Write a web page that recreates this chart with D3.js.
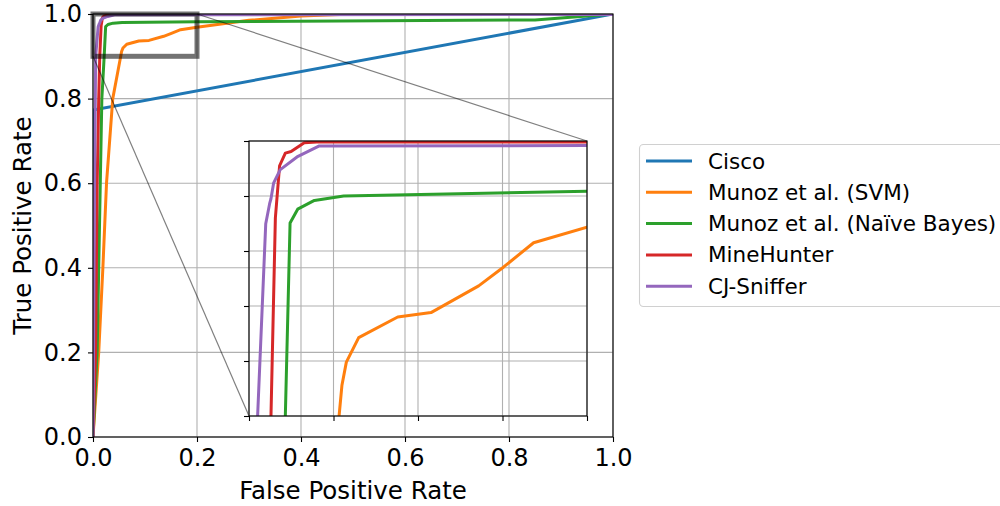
<!DOCTYPE html>
<html>
<head>
<meta charset="utf-8">
<script src="https://cdn.jsdelivr.net/npm/d3@7"></script>
<style>
  body { margin: 0; background: #fff; }
  text { font-family: "DejaVu Sans", sans-serif; fill: #000; }
</style>
</head>
<body>
<div id="chart"></div>
<script>
// ROC data
var names = ["Cisco", "Munoz et al. (SVM)", "Munoz et al. (Naïve Bayes)", "MineHunter", "CJ-Sniffer"];
var colors = ["#1f77b4", "#ff7f0e", "#2ca02c", "#d62728", "#9467bd"];

var ciscoFpr = [0, 0, 1];
var ciscoTpr = [0, 0.773, 1];

var svmFpr = [0, 0.011, 0.019, 0.026, 0.038, 0.0533, 0.055, 0.0576, 0.0649, 0.088, 0.1077, 0.1359, 0.1507, 0.1684, 0.2, 0.3, 0.4, 0.5, 1.0];
var svmTpr = [0, 0.2, 0.4, 0.6, 0.8, 0.9, 0.9112, 0.9196, 0.9285, 0.936, 0.9376, 0.9473, 0.9542, 0.963, 0.9687, 0.985, 0.995, 1.0, 1.0];

var nbFpr = [0, 0.008, 0.011, 0.014, 0.017, 0.0215, 0.0243, 0.0288, 0.0387, 0.056, 0.2, 0.85, 1];
var nbTpr = [0, 0.2, 0.4, 0.6, 0.8, 0.9, 0.9702, 0.9752, 0.9784, 0.98, 0.9817, 0.986, 1];

var mhFpr = [0, 0.005, 0.008, 0.011, 0.013, 0.0156, 0.0181, 0.0215, 0.0249, 0.0327, 0.0402, 1];
var mhTpr = [0, 0.2, 0.6, 0.8, 0.9, 0.972, 0.991, 0.9956, 0.9962, 0.9994, 0.9996, 1];

var cjFpr = [0, 0.003, 0.0051, 0.0099, 0.0122, 0.013, 0.0146, 0.0185, 0.0284, 0.0416, 1];
var cjTpr = [0, 0.6, 0.9, 0.9699, 0.9772, 0.979, 0.9848, 0.9896, 0.9942, 0.9982, 0.999];

var mainTicks = [0, 0.2, 0.4, 0.6, 0.8, 1.0];
var insetXTicks = [0, 0.05, 0.1, 0.15, 0.2];
var insetYTicks = [0.9, 0.92, 0.94, 0.96, 0.98, 1.0];
var zoomX = [0, 0.2], zoomY = [0.9, 1.0];

var series = [
  d3.zip(ciscoFpr, ciscoTpr),
  d3.zip(svmFpr, svmTpr),
  d3.zip(nbFpr, nbTpr),
  d3.zip(mhFpr, mhTpr),
  d3.zip(cjFpr, cjTpr)
];

var width = 1000, height = 506;
var tickFont = 24, labelFont = 24.5, legendFont = 21.5;

var svg = d3.select("#chart").append("svg")
  .attr("width", width).attr("height", height);

svg.append("rect").attr("width", width).attr("height", height).attr("fill", "#fff");

var x = d3.scaleLinear().domain([0, 1]).range([93, 613]);
var y = d3.scaleLinear().domain([0, 1]).range([437, 14]);

var xi = d3.scaleLinear().domain(zoomX).range([249, 587]);
var yi = d3.scaleLinear().domain(zoomY).range([416, 141]);

var defs = svg.append("defs");
defs.append("clipPath").attr("id", "clipMain").append("rect")
  .attr("x", x(0)).attr("y", y(1)).attr("width", x(1) - x(0)).attr("height", y(0) - y(1));
defs.append("clipPath").attr("id", "clipInset").append("rect")
  .attr("x", xi(zoomX[0])).attr("y", yi(zoomY[1])).attr("width", xi(zoomX[1]) - xi(zoomX[0])).attr("height", yi(zoomY[0]) - yi(zoomY[1]));

function drawAxes(g, xs, ys, xt, yt, labels, clipId) {
  // grid
  g.append("g").selectAll("line.gx").data(xt).enter().append("line")
    .attr("x1", d => xs(d)).attr("x2", d => xs(d))
    .attr("y1", ys.range()[0]).attr("y2", ys.range()[1])
    .attr("stroke", "#b0b0b0").attr("stroke-width", 1.1);
  g.append("g").selectAll("line.gy").data(yt).enter().append("line")
    .attr("y1", d => ys(d)).attr("y2", d => ys(d))
    .attr("x1", xs.range()[0]).attr("x2", xs.range()[1])
    .attr("stroke", "#b0b0b0").attr("stroke-width", 1.1);

  var line = d3.line().x(d => xs(d[0])).y(d => ys(d[1]));
  g.append("g").attr("clip-path", "url(#" + clipId + ")")
    .selectAll("path").data(series).enter().append("path")
    .attr("d", line)
    .attr("fill", "none")
    .attr("stroke", (d, i) => colors[i])
    .attr("stroke-width", 3)
    .attr("stroke-linejoin", "round")
    .attr("stroke-linecap", "butt");

  var fmt = labels ? d3.format(".1f") : () => "";
  var xa = g.append("g").attr("transform", "translate(0," + ys.range()[0] + ")")
    .call(d3.axisBottom(xs).tickValues(xt).tickSize(5).tickPadding(7).tickFormat(fmt));
  var ya = g.append("g").attr("transform", "translate(" + xs.range()[0] + ",0)")
    .call(d3.axisLeft(ys).tickValues(yt).tickSize(5).tickPadding(6).tickFormat(fmt));
  [xa, ya].forEach(a => {
    a.select(".domain").remove();
    a.selectAll("line").attr("stroke", "#000").attr("stroke-width", 1.1);
    a.selectAll("text").attr("font-size", tickFont).attr("font-family", "DejaVu Sans");
  });

  g.append("rect")
    .attr("x", xs.range()[0]).attr("y", ys.range()[1])
    .attr("width", xs.range()[1] - xs.range()[0])
    .attr("height", ys.range()[0] - ys.range()[1])
    .attr("fill", "none").attr("stroke", "#000").attr("stroke-width", 1.1);
}

var mainG = svg.append("g");
drawAxes(mainG, x, y, mainTicks, mainTicks, true, "clipMain");

// zoom region marker
svg.append("rect")
  .attr("x", x(zoomX[0])).attr("y", y(zoomY[1]))
  .attr("width", x(zoomX[1]) - x(zoomX[0])).attr("height", y(zoomY[0]) - y(zoomY[1]))
  .attr("fill", "none").attr("stroke", "rgba(0,0,0,0.55)").attr("stroke-width", 5);

// connectors
svg.append("line")
  .attr("x1", x(zoomX[1])).attr("y1", y(zoomY[1]))
  .attr("x2", xi(zoomX[1])).attr("y2", yi(zoomY[1]))
  .attr("stroke", "rgba(0,0,0,0.5)").attr("stroke-width", 1.2);
svg.append("line")
  .attr("x1", x(zoomX[0])).attr("y1", y(zoomY[0]))
  .attr("x2", xi(zoomX[0])).attr("y2", yi(zoomY[0]))
  .attr("stroke", "rgba(0,0,0,0.5)").attr("stroke-width", 1.2);

var insetG = svg.append("g");
drawAxes(insetG, xi, yi, insetXTicks, insetYTicks, false, "clipInset");

// axis labels
svg.append("text").attr("x", (x(0) + x(1)) / 2).attr("y", 499)
  .attr("text-anchor", "middle").attr("font-size", labelFont).text("False Positive Rate");
svg.append("text").attr("transform", "translate(31," + (y(0) + y(1)) / 2 + ") rotate(-90)")
  .attr("text-anchor", "middle").attr("font-size", labelFont).text("True Positive Rate");

// legend
var leg = svg.append("g");
leg.append("rect").attr("x", 639.5).attr("y", 144.5).attr("width", 370).attr("height", 162)
  .attr("rx", 4).attr("fill", "#fff").attr("stroke", "#d0d0d0").attr("stroke-width", 1.1);
var rows = leg.selectAll("g.row").data(names).enter().append("g")
  .attr("transform", (d, i) => "translate(0," + (161 + i * 31.3) + ")");
rows.append("line").attr("x1", 646).attr("x2", 692)
  .attr("stroke", (d, i) => colors[i]).attr("stroke-width", 3);
rows.append("text").attr("x", 708).attr("dy", "0.35em")
  .attr("font-size", legendFont).text(d => d);
</script>
</body>
</html>
